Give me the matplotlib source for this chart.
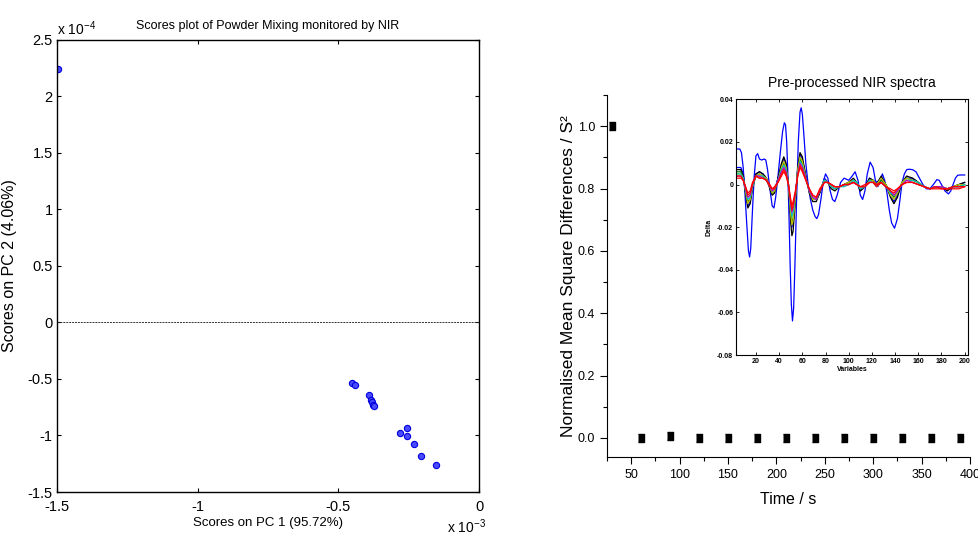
import numpy as np
import matplotlib
matplotlib.use('Agg')
import matplotlib.pyplot as plt
from matplotlib.ticker import MultipleLocator, FixedLocator

plt.rcParams['font.family'] = ['Liberation Sans', 'DejaVu Sans']
plt.rcParams['mathtext.default'] = 'regular'

# PCA scores (PC1 in units of 1e-3, PC2 in units of 1e-4)
pc1_e3 = [-1.495, -0.451, -0.441, -0.391, -0.384, -0.381, -0.376, -0.373,
          -0.281, -0.257, -0.257, -0.232, -0.205, -0.153]
pc2_e4 = [2.24, -0.538, -0.550, -0.642, -0.686, -0.701, -0.730, -0.736,
          -0.981, -0.934, -1.004, -1.075, -1.181, -1.261]

# normalised mean square differences vs mixing time
times = [30, 60, 90, 120, 150, 180, 210, 240, 270, 300, 330, 360, 390]
nmsd = [1.0, 0.0, 0.005, 0.0, 0.0, 0.0, 0.0, 0.0, 0.0, 0.0, 0.0, 0.0, 0.0]

# outlier spectrum
out_x = [3, 6, 7.5, 9, 10.5, 12, 13.5, 14.5, 15.5, 17,
         18.5, 20, 21.5, 23, 25, 27, 28.5, 30, 32, 34,
         35.5, 37, 39, 41, 43, 44.5, 45.5, 46.5, 47.5, 48.5,
         49.5, 50.5, 51.5, 52.5, 53.5, 55, 56.5, 58, 59, 60,
         61.5, 63, 65, 67, 69, 71, 72.5, 74, 76, 78,
         80, 82, 84, 86, 88, 90, 93, 96, 100, 103,
         105.5, 108, 110, 112, 114, 116, 118.5, 121, 123, 125,
         127, 129, 131, 133, 135, 137, 139.5, 142, 144, 146,
         148, 150, 152, 155, 158, 161, 164, 167, 170, 173,
         176, 178, 180, 183, 186, 188, 190, 192, 194, 197,
         200]
out_y = [0.0167, 0.0167, 0.015, 0.008, -0.004, -0.018, -0.031, -0.034, -0.030, -0.012,
         0.004, 0.0135, 0.0145, 0.012, 0.0115, 0.012, 0.0115, 0.007, -0.002, -0.010,
         -0.011, -0.006, 0.004, 0.015, 0.025, 0.029, 0.028, 0.020, 0.005, -0.015,
         -0.038, -0.056, -0.064, -0.058, -0.040, -0.008, 0.020, 0.034, 0.036, 0.033,
         0.022, 0.010, 0.000, -0.007, -0.012, -0.015, -0.016, -0.014, -0.007, 0.001,
         0.005, 0.003, -0.003, -0.007, -0.008, -0.005, 0.001, 0.003, 0.002, 0.004,
         0.006, 0.002, -0.005, -0.007, -0.003, 0.005, 0.0105, 0.008, 0.002, -0.001,
         0.001, 0.005, 0.002, -0.004, -0.012, -0.018, -0.0205, -0.016, -0.008, 0.001,
         0.005, 0.007, 0.0072, 0.007, 0.006, 0.003, 0.000, -0.002, -0.002, 0.000,
         0.0023, 0.002, 0.000, -0.003, -0.0044, -0.003, 0.000, 0.003, 0.0044, 0.0045,
         0.0045]

# main bundle of spectra
var_x = [3, 7, 9, 11, 13, 15, 17, 20, 23, 26,
         29, 32, 34, 36, 39, 42, 44, 46, 48, 50,
         51, 52, 54, 56, 58, 60, 63, 66, 69, 72,
         75, 79, 82, 85, 88, 92, 96, 100, 104, 107,
         110, 114, 118, 121, 124, 128, 132, 136, 139, 142,
         146, 150, 155, 160, 165, 170, 175, 180, 185, 190,
         195, 200]
spec_b = [0.008, 0.008, 0.005, -0.003, -0.010, -0.008, -0.001, 0.005, 0.006, 0.005,
          0.003, -0.001, -0.004, -0.003, 0.003, 0.009, 0.012, 0.009, 0.000, -0.015,
          -0.020, -0.018, -0.006, 0.007, 0.014, 0.012, 0.004, -0.003, -0.007, -0.007,
          -0.004, 0.003, 0.001, -0.001, -0.002, -0.001, 0.000, 0.001, 0.002, 0.001,
          -0.003, -0.001, 0.003, 0.002, 0.001, 0.003, 0.000, -0.005, -0.008, -0.005,
          0.001, 0.003, 0.003, 0.001, -0.001, -0.002, -0.001, -0.001, -0.002, -0.001,
          0.000, 0.001]
spec_k = [0.007, 0.007, 0.004, -0.004, -0.011, -0.009, -0.002, 0.005, 0.006, 0.005,
          0.003, -0.002, -0.005, -0.004, 0.003, 0.010, 0.013, 0.010, 0.000, -0.018,
          -0.024, -0.022, -0.008, 0.008, 0.015, 0.013, 0.004, -0.004, -0.008, -0.008,
          -0.004, 0.002, 0.001, -0.002, -0.003, -0.001, 0.000, 0.001, 0.003, 0.001,
          -0.003, -0.001, 0.003, 0.002, 0.000, 0.004, 0.000, -0.006, -0.009, -0.006,
          0.001, 0.004, 0.003, 0.001, -0.001, -0.002, -0.001, -0.001, -0.003, -0.001,
          0.000, 0.001]
spec_g = [0.006, 0.006, 0.003, -0.003, -0.008, -0.007, -0.001, 0.004, 0.005, 0.004,
          0.002, -0.001, -0.004, -0.003, 0.002, 0.008, 0.010, 0.008, 0.000, -0.013,
          -0.018, -0.016, -0.006, 0.006, 0.012, 0.010, 0.003, -0.003, -0.007, -0.007,
          -0.003, 0.002, 0.001, -0.001, -0.002, -0.001, 0.000, 0.001, 0.002, 0.001,
          -0.002, -0.001, 0.002, 0.002, 0.000, 0.002, 0.000, -0.004, -0.006, -0.004,
          0.001, 0.003, 0.002, 0.001, -0.001, -0.002, -0.001, -0.001, -0.002, -0.001,
          -0.001, 0.000]
spec_y = [0.005, 0.005, 0.003, -0.003, -0.009, -0.007, -0.001, 0.004, 0.005, 0.004,
          0.003, -0.001, -0.004, -0.003, 0.002, 0.008, 0.011, 0.008, 0.000, -0.014,
          -0.019, -0.017, -0.006, 0.007, 0.013, 0.011, 0.003, -0.003, -0.007, -0.007,
          -0.003, 0.002, 0.001, -0.001, -0.002, -0.001, 0.000, 0.001, 0.002, 0.001,
          -0.002, -0.001, 0.002, 0.002, 0.000, 0.003, 0.000, -0.005, -0.007, -0.004,
          0.001, 0.003, 0.002, 0.001, -0.001, -0.002, -0.001, -0.001, -0.002, -0.001,
          0.000, 0.000]
spec_c = [0.005, 0.005, 0.003, -0.002, -0.007, -0.006, -0.001, 0.004, 0.004, 0.004,
          0.002, -0.001, -0.003, -0.002, 0.002, 0.007, 0.009, 0.007, 0.000, -0.011,
          -0.015, -0.013, -0.005, 0.005, 0.011, 0.009, 0.003, -0.003, -0.006, -0.007,
          -0.003, 0.002, 0.001, -0.001, -0.002, -0.001, -0.001, 0.000, 0.002, 0.001,
          -0.002, -0.001, 0.002, 0.001, -0.001, 0.001, -0.001, -0.004, -0.005, -0.003,
          0.000, 0.002, 0.002, 0.001, -0.001, -0.002, -0.001, -0.001, -0.002, -0.001,
          -0.001, 0.000]
spec_m = [0.004, 0.004, 0.002, -0.002, -0.006, -0.005, 0.000, 0.004, 0.004, 0.003,
          0.002, -0.001, -0.003, -0.002, 0.002, 0.006, 0.008, 0.006, 0.000, -0.009,
          -0.013, -0.011, -0.004, 0.005, 0.010, 0.008, 0.003, -0.003, -0.006, -0.007,
          -0.003, 0.001, 0.001, 0.000, -0.001, -0.001, 0.000, 0.000, 0.001, 0.000,
          -0.001, -0.001, 0.001, 0.001, 0.000, 0.001, -0.001, -0.003, -0.005, -0.003,
          0.000, 0.002, 0.001, 0.000, -0.001, -0.002, -0.001, -0.001, -0.002, -0.001,
          -0.001, -0.001]
spec_r2 = [0.004, 0.004, 0.002, -0.001, -0.005, -0.004, 0.000, 0.004, 0.003, 0.003,
           0.002, -0.001, -0.002, -0.002, 0.001, 0.005, 0.007, 0.005, 0.000, -0.008,
           -0.012, -0.010, -0.004, 0.004, 0.009, 0.007, 0.002, -0.002, -0.005, -0.006,
           -0.003, 0.001, 0.001, 0.000, -0.001, -0.001, 0.000, 0.000, 0.001, 0.000,
           -0.001, -0.001, 0.001, 0.001, 0.000, 0.001, -0.001, -0.003, -0.004, -0.002,
           0.000, 0.001, 0.001, 0.000, -0.001, -0.002, -0.001, -0.002, -0.002, -0.001,
           -0.001, -0.001]
spec_r1 = [0.003, 0.003, 0.002, -0.001, -0.004, -0.003, 0.001, 0.004, 0.003, 0.003,
           0.002, 0.000, -0.002, -0.001, 0.001, 0.004, 0.006, 0.004, 0.000, -0.007,
           -0.010, -0.008, -0.003, 0.004, 0.008, 0.006, 0.002, -0.002, -0.005, -0.006,
           -0.002, 0.001, 0.001, 0.000, -0.001, -0.001, 0.000, 0.000, 0.001, 0.000,
           -0.001, 0.000, 0.001, 0.001, -0.001, 0.001, -0.001, -0.002, -0.003, -0.002,
           0.000, 0.001, 0.001, 0.000, -0.001, -0.002, -0.002, -0.002, -0.002, -0.002,
           -0.002, -0.001]
bundle = [(spec_b, '#0000ff'), (spec_k, '#000000'), (spec_g, '#008000'),
          (spec_y, '#bfbf00'), (spec_c, '#00bfbf'), (spec_m, '#bf00bf'),
          (spec_r2, '#ff0000'), (spec_r1, '#ff0000')]

fig = plt.figure(figsize=(9.79, 5.38), dpi=100)

# ---- left: scores plot (MATLAB look) ----
ax1 = fig.add_axes([0.0582, 0.0855, 0.4311, 0.8402])
ax1.axhline(0, color='#333333', lw=0.7, ls=(0, (2, 1)))
ax1.plot(pc1_e3, pc2_e4, 'o', ms=4.5, mfc='#4a4aff', mec='#0000dd', mew=0.8)
ax1.set_xlim(-1.5, 0)
ax1.set_ylim(-1.5, 2.5)
ax1.xaxis.set_major_locator(MultipleLocator(0.5))
ax1.yaxis.set_major_locator(MultipleLocator(0.5))
ax1.xaxis.set_major_formatter(plt.FuncFormatter(lambda v, p: f'{v:g}'))
ax1.yaxis.set_major_formatter(plt.FuncFormatter(lambda v, p: f'{v:g}'))
ax1.tick_params(direction='in', length=3, width=0.8, top=True, right=True,
                labelsize=10.5)
ax1.tick_params(axis='y', pad=3)
ax1.tick_params(axis='x', pad=6)
for s in ax1.spines.values():
    s.set_linewidth(1.0)
ax1.set_title('Scores plot of Powder Mixing monitored by NIR', fontsize=9, pad=8)
ax1.set_xlabel('Scores on PC 1 (95.72%)', fontsize=9.5, labelpad=2)
ax1.set_ylabel('Scores on PC 2 (4.06%)', fontsize=11.5)
ax1.yaxis.set_label_coords(-0.094, 0.5)
ax1.text(0.0, 1.005, r'x 10$^{-4}$', transform=ax1.transAxes, fontsize=10,
         ha='left', va='bottom')
fig.text(0.4566, 0.010, r'x 10$^{-3}$', fontsize=10, ha='left', va='baseline')

# ---- right: NMSD vs time (Origin look) ----
ax2 = fig.add_axes([0.620, 0.1511, 0.3708, 0.6723])
ax2.plot(times, nmsd, ls='none', marker=[(-0.7, -1), (0.7, -1), (0.7, 1), (-0.7, 1)],
         ms=6, color='black')
ax2.set_xlim(25, 400)
ax2.set_ylim(-0.06, 1.10)
ax2.xaxis.set_major_locator(MultipleLocator(50))
ax2.xaxis.set_minor_locator(MultipleLocator(25))
ax2.yaxis.set_major_locator(FixedLocator([0.0, 0.2, 0.4, 0.6, 0.8, 1.0]))
ax2.yaxis.set_minor_locator(FixedLocator([0.1, 0.3, 0.5, 0.7, 0.9, 1.1]))
ax2.yaxis.set_major_formatter(plt.FuncFormatter(lambda v, p: f'{v:.1f}'))
ax2.spines['top'].set_visible(False)
ax2.spines['right'].set_visible(False)
ax2.tick_params(which='major', direction='out', length=5, width=0.8, labelsize=9)
ax2.tick_params(which='minor', direction='out', length=3, width=0.8)
ax2.set_xlabel('Time / s', fontsize=11.5, labelpad=8)
ax2.set_ylabel('Normalised Mean Square Differences / S²', fontsize=12.5)
ax2.yaxis.set_label_coords(-0.085, 0.5)

# ---- inset: pre-processed spectra ----
ax3 = fig.add_axes([0.7518, 0.3401, 0.2370, 0.4753])
ax3.plot(out_x, out_y, color='#0000ff', lw=0.9)
for spec, col in bundle:
    ax3.plot(var_x, spec, color=col, lw=0.9)
ax3.set_xlim(2.8, 202.9)
ax3.set_ylim(-0.08, 0.04)
ax3.xaxis.set_major_locator(MultipleLocator(20))
ax3.yaxis.set_major_locator(MultipleLocator(0.02))
ax3.yaxis.set_major_formatter(plt.FuncFormatter(lambda v, p: f'{v:g}'))
ax3.tick_params(direction='in', length=2, width=0.6, top=True, right=True,
                labelsize=5, pad=2)
for lab in ax3.get_xticklabels() + ax3.get_yticklabels():
    lab.set_fontweight('bold')
for s in ax3.spines.values():
    s.set_linewidth(0.8)
ax3.set_title('Pre-processed NIR spectra', fontsize=10, pad=9)
ax3.set_xlabel('Variables', fontsize=5, fontweight='bold', labelpad=1)
ax3.set_ylabel('Delta', fontsize=5, fontweight='bold', labelpad=3)

fig.savefig('out.png', dpi=100)
